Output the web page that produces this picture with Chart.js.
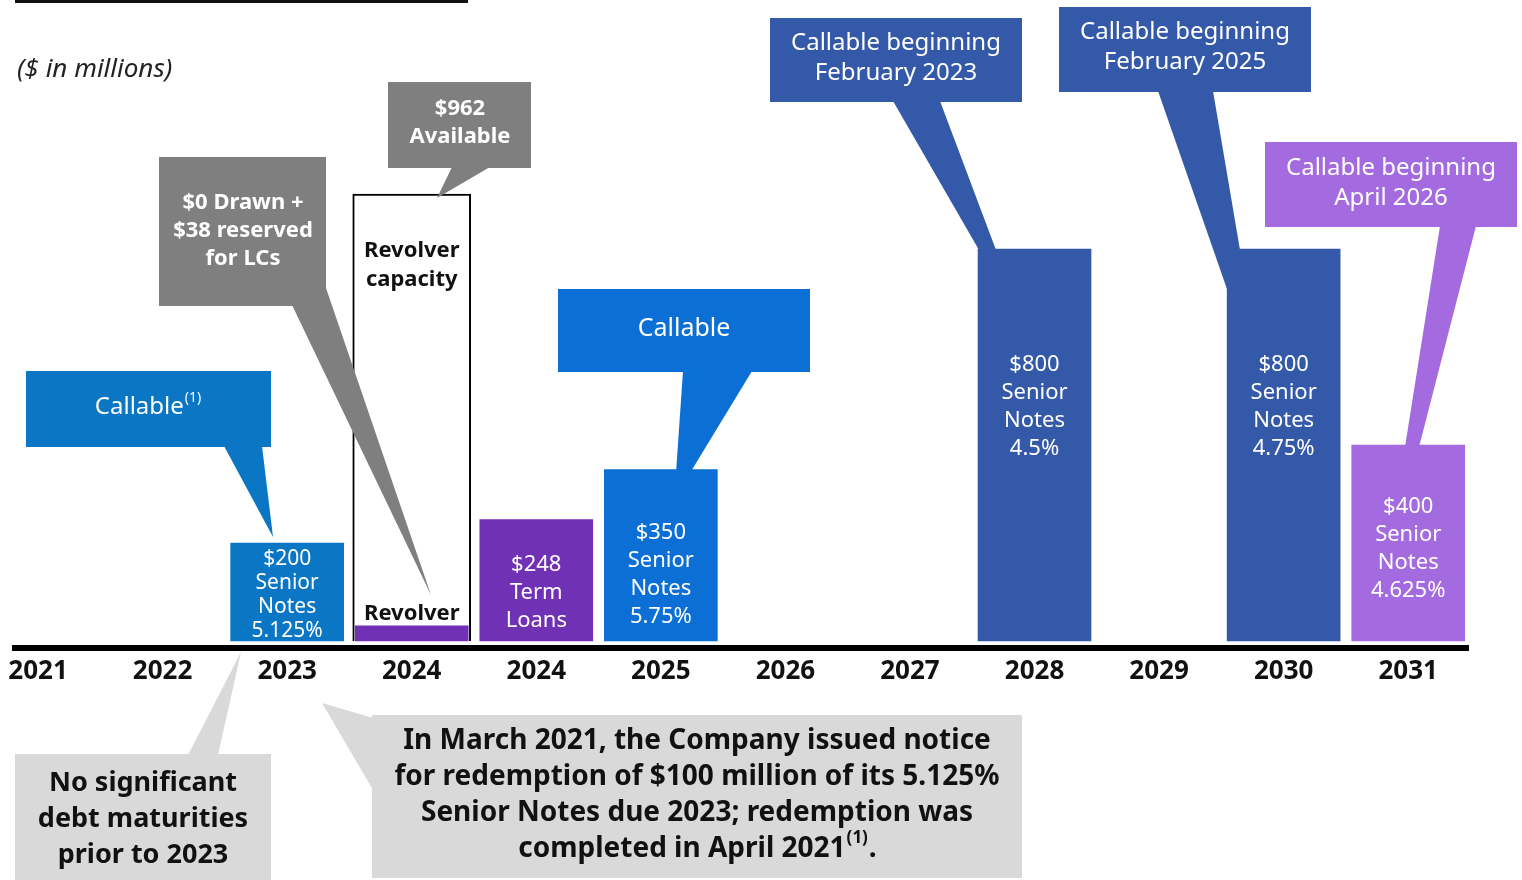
<!DOCTYPE html>
<html><head><meta charset="utf-8">
<script src="https://cdn.jsdelivr.net/npm/chart.js@4.4.0/dist/chart.umd.min.js"></script>
<style>html,body{margin:0;padding:0;background:#fff;overflow:hidden}#wrap{width:1522px;height:880px;position:relative}canvas{display:block}</style>
</head><body><div id="wrap"><canvas id="c" width="1522" height="880"></canvas></div>
<script>
// ---- data ----
const categories = ['2021','2022','2023','2024','2024','2025','2026','2027','2028','2029','2030','2031'];
const maturities = [null,null,200,31,248,350,null,null,800,null,800,400];
const revolverCapacity = [null,null,null,912,null,null,null,null,null,null,null,null];
const barLabels = [[],[],['$200','Senior','Notes','5.125%'],['Revolver'],['$248','Term','Loans'],['$350','Senior','Notes','5.75%'],[],[],['$800','Senior','Notes','4.5%'],[],['$800','Senior','Notes','4.75%'],['$400','Senior','Notes','4.625%']];
const capacityLabel = ['Revolver','capacity'];

// ---- styles ----
const BLUE1='#0A76C4', BLUE2='#0B6FD6', NAVY='#3559A9', LAV='#A36BDF', PURPLE='#7131B4', GRAY='#7F7F7F', LGRAY='#D9D9D9';
const barColors = [null,null,BLUE1,PURPLE,PURPLE,BLUE2,null,null,NAVY,null,NAVY,LAV];
const FF = '"Noto Sans", "DejaVu Sans", sans-serif';
const barLabelStyle = {
  2:{off:16, lh:24, size:21},
  3:{off:-12, lh:28, size:22, bold:true, color:'#111'},
  4:{off:45, lh:28, size:22},
  5:{off:63, lh:28, size:22},
  8:{off:116, lh:28, size:22},
  10:{off:116, lh:28, size:22},
  11:{off:62, lh:28, size:22}
};

const callouts = [
  {rect:[26,371,245,76], fill:BLUE1, ptr:[[224,446],[262,446],[273,537]], text:[{s:'Callable',sup:'(1)',x:148,y:407}], size:24, color:'#fff'},
  {rect:[159,157,167,149], fill:GRAY, ptr:[[292,305],[326,288],[431,595]], text:[{s:'$0 Drawn +',x:243,y:203},{s:'$38 reserved',x:243,y:231},{s:'for LCs',x:243,y:259}], size:22, bold:true, color:'#fff'},
  {rect:[388,82,143,86], fill:GRAY, ptr:[[452,167],[490,167],[437,198]], text:[{s:'$962',x:460,y:109},{s:'Available',x:460,y:137}], size:22, bold:true, color:'#fff'},
  {rect:[558,289,252,83], fill:BLUE2, ptr:[[683,371],[752,371],[690,473],[676,473]], text:[{s:'Callable',x:684,y:329}], size:25, color:'#fff'},
  {rect:[770,18,252,84], fill:NAVY, ptr:[[893,101],[940,101],[996,250],[979,250]], text:[{s:'Callable beginning',x:896,y:43},{s:'February 2023',x:896,y:73}], size:24, color:'#fff'},
  {rect:[1059,7,252,85], fill:NAVY, ptr:[[1158,91],[1213,91],[1240,250],[1228,292]], text:[{s:'Callable beginning',x:1185,y:32},{s:'February 2025',x:1185,y:62}], size:24, color:'#fff'},
  {rect:[1265,142,252,85], fill:LAV, ptr:[[1440,226],[1476,226],[1419,447],[1405,447]], text:[{s:'Callable beginning',x:1391,y:168},{s:'April 2026',x:1391,y:198}], size:24, color:'#fff'},
  {rect:[15,754,256,126], fill:LGRAY, ptr:[[188,755],[218,755],[241,652]], text:[{s:'No significant',x:143,y:783},{s:'debt maturities',x:143,y:819},{s:'prior to 2023',x:143,y:855}], size:27, bold:true, color:'#111'},
  {rect:[372,715,650,163], fill:LGRAY, ptr:[[373,718],[373,790],[322,703]], text:[{s:'In March 2021, the Company issued notice',x:697,y:741},{s:'for redemption of $100 million of its 5.125%',x:697,y:777},{s:'Senior Notes due 2023; redemption was',x:697,y:813},{s:'completed in April 2021',sup:'(1)',tail:'.',x:697,y:849}], size:28, bold:true, color:'#111'}
];

function font(size,bold,italic){return (italic?'italic ':'')+(bold?'bold ':'')+size+'px '+FF;}
function drawText(ctx,t,size,bold,color){
  ctx.fillStyle=color; ctx.textBaseline='middle';
  const f=font(size,bold), sf=font(Math.round(size*0.6),bold);
  if(!t.sup){ctx.font=f;ctx.textAlign='center';ctx.fillText(t.s,t.x,t.y);return;}
  ctx.font=f; const w1=ctx.measureText(t.s).width; const w3=t.tail?ctx.measureText(t.tail).width:0;
  ctx.font=sf; const w2=ctx.measureText(t.sup).width+1;
  let x=t.x-(w1+w2+w3)/2; ctx.textAlign='left';
  ctx.font=f; ctx.fillText(t.s,x,t.y); x+=w1+1;
  ctx.font=sf; ctx.fillText(t.sup,x,t.y-size*0.38); x+=w2;
  if(t.tail){ctx.font=f; ctx.fillText(t.tail,x,t.y);}
}

const annot = {
  id:'annot',
  afterDatasetsDraw(chart){
    const ctx=chart.ctx; ctx.save();
    // header remnants
    ctx.fillStyle='#111'; ctx.fillRect(15,0,453,3);
    ctx.font=font(26,false,true); ctx.fillStyle='#222'; ctx.textAlign='left'; ctx.textBaseline='middle';
    ctx.fillText('($ in millions)',17,70);
    // callouts
    callouts.forEach(c=>{
      ctx.fillStyle=c.fill;
      ctx.beginPath(); c.ptr.forEach((p,i)=>i?ctx.lineTo(p[0],p[1]):ctx.moveTo(p[0],p[1])); ctx.closePath(); ctx.fill();
      ctx.fillRect(c.rect[0],c.rect[1],c.rect[2],c.rect[3]);
      c.text.forEach(t=>drawText(ctx,t,c.size,c.bold,c.color));
    });
    // bar labels
    const meta=chart.getDatasetMeta(0);
    barLabels.forEach((lines,i)=>{
      if(!lines.length) return; const el=meta.data[i]; const st=barLabelStyle[i];
      ctx.font=font(st.size,st.bold); ctx.fillStyle=st.color||'#fff'; ctx.textAlign='center'; ctx.textBaseline='middle';
      lines.forEach((s,k)=>ctx.fillText(s,el.x,el.y+st.off+k*st.lh));
    });
    const cap=chart.getDatasetMeta(1).data[3];
    ctx.font=font(22,true); ctx.fillStyle='#111';
    capacityLabel.forEach((s,k)=>ctx.fillText(s,cap.x,cap.y+57+k*29));
    ctx.restore();
  }
};

new Chart(document.getElementById('c'),{
  type:'bar',
  data:{datasets:[
    {label:'Debt maturities',data:categories.map((c,i)=>({x:i,y:maturities[i]})),backgroundColor:barColors,barThickness:113,grouped:false,order:1},
    {label:'Revolver capacity',data:categories.map((c,i)=>({x:i,y:revolverCapacity[i]})),backgroundColor:'#fff',borderColor:'#000',borderWidth:2,borderSkipped:'bottom',barThickness:118,grouped:false,order:2}
  ]},
  options:{
    responsive:false,animation:false,devicePixelRatio:1,
    layout:{padding:{left:15,right:54,top:0,bottom:0}},
    plugins:{legend:{display:false},tooltip:{enabled:false}},
    scales:{
      x:{type:'linear',min:-0.185,max:11.48,offset:false,
        grid:{display:false,drawTicks:false,offset:false},
        border:{display:true,color:'#000',width:6},
        afterBuildTicks:s=>{s.ticks=categories.map((_,i)=>({value:i}));},
        afterFit:s=>{s.height=232;},
        ticks:{autoSkip:false,maxRotation:0,padding:8,color:'#111',font:{family:FF,size:26,weight:'bold'},callback:(v,i)=>categories[i]}
      },
      y:{display:false,min:-14.29,max:1308.16}
    }
  },
  plugins:[annot]
});
</script></body></html>
